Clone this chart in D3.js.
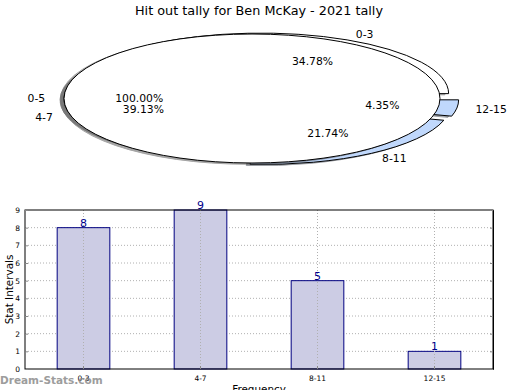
<!DOCTYPE html>
<html>
<head>
<meta charset="utf-8">
<script src="https://cdn.jsdelivr.net/npm/d3@7"></script>
<style>
  body { margin: 0; background: #fff; }
  svg text { font-family: "DejaVu Sans", sans-serif; }
</style>
</head>
<body>
<svg id="chart" width="520" height="390"></svg>
<script>
// counts per interval, shared by the pie and the bar chart
const categories = ["0-3", "4-7", "8-11", "12-15"];
const counts = [8, 9, 5, 1];
const explode = [0.1, 0, 0.1, 0.1];
const sliceColors = ["#ffffff", "#ffffff", "#c0d8fc", "#c0d8fc"];
// the second (single slice) pie drawn on top
const overCategories = ["0-5"];
const overCounts = [23];
const overColors = ["#ffffff"];
const yTicks = [0, 1, 2, 3, 4, 5, 6, 7, 8, 9];

const title = "Hit out tally for Ben McKay - 2021 tally";

const svg = d3.select("#chart");

svg.append("text")
  .attr("x", 259).attr("y", 15)
  .attr("text-anchor", "middle")
  .attr("font-size", 12.8)
  .text(title);

// ---- pies (squashed into ellipses, two overlaid axes of slightly different height) ----
// d3 angle 0 is 12 o'clock clockwise; start at 3 o'clock going counter-clockwise
const pie = d3.pie().sort(null).startAngle(Math.PI / 2).endAngle(Math.PI / 2 - 2 * Math.PI);
const arc = d3.arc().innerRadius(0).outerRadius(1);

const pieLayer = svg.append("g");
const labelLayer = svg.append("g");

function drawPie(box, values, labels, colors, explodes) {
  const g = pieLayer.append("g")
    .attr("transform", `translate(${box.cx},${box.cy}) scale(${box.rx},${box.ry})`);
  const toPx = (u, v) => [box.cx + u * box.rx, box.cy + v * box.ry];
  const slices = pie(values);
  const total = d3.sum(values);
  slices.forEach((s, i) => {
    const mid = (s.startAngle + s.endAngle) / 2;
    const ex = explodes ? explodes[i] : 0;
    const dx = Math.sin(mid) * ex, dy = -Math.cos(mid) * ex;
    const c = d3.rgb(colors[i]);
    const shade = d3.rgb(c.r * 0.3, c.g * 0.3, c.b * 0.3);
    // shadow
    g.append("path")
      .attr("d", arc(s))
      .attr("transform", `translate(${dx - 0.02},${dy + 0.02})`)
      .attr("fill", shade).attr("stroke", shade).attr("opacity", 0.5)
      .attr("vector-effect", "non-scaling-stroke");
    g.append("path")
      .attr("d", arc(s))
      .attr("transform", `translate(${dx},${dy})`)
      .attr("fill", colors[i]).attr("stroke", "#000").attr("stroke-width", 1)
      .attr("vector-effect", "non-scaling-stroke");

    const [lx, ly] = toPx(dx + Math.sin(mid) * 1.1, dy - Math.cos(mid) * 1.1);
    labelLayer.append("text")
      .attr("x", lx).attr("y", ly)
      .attr("dy", "0.35em")
      .attr("text-anchor", Math.sin(mid) > 0 ? "start" : "end")
      .attr("font-size", 10.8)
      .text(labels[i]);

    const [px, py] = toPx(dx + Math.sin(mid) * 0.6, dy - Math.cos(mid) * 0.6);
    labelLayer.append("text")
      .attr("x", px).attr("y", py)
      .attr("dy", "0.35em")
      .attr("text-anchor", "middle")
      .attr("font-size", 10.8)
      .text(d3.format(".2f")(values[i] / total * 100) + "%");
  });
}

drawPie({ cx: 252, cy: 99, rx: 188, ry: 60.5 }, counts, categories, sliceColors, explode);
drawPie({ cx: 252, cy: 98.5, rx: 188, ry: 64.5 }, overCounts, overCategories, overColors, null);

// ---- bar chart ----
const plot = { left: 25, right: 493, top: 210, bottom: 369 };

const x = d3.scaleBand().domain(categories)
  .range([plot.left, plot.right])
  .paddingInner(0.55).paddingOuter(0.275);
const y = d3.scaleLinear().domain([0, 9]).range([plot.bottom, plot.top]);

const barG = svg.append("g");

// horizontal grid under the bars
barG.selectAll("line.hgrid").data(yTicks.slice(1, -1)).enter()
  .append("line").attr("class", "hgrid")
  .attr("x1", plot.left).attr("x2", plot.right)
  .attr("y1", d => y(d)).attr("y2", d => y(d))
  .attr("stroke", "#b0b0b0").attr("stroke-dasharray", "1,2");

barG.selectAll("rect").data(counts).enter()
  .append("rect")
  .attr("x", (d, i) => x(categories[i]))
  .attr("y", d => y(d))
  .attr("width", x.bandwidth())
  .attr("height", d => y(0) - y(d))
  .attr("fill", "#ccccE4")
  .attr("stroke", "#000080").attr("stroke-width", 1);

// vertical grid at category ticks
barG.selectAll("line.vgrid").data(categories).enter()
  .append("line").attr("class", "vgrid")
  .attr("x1", d => x(d) + x.bandwidth() / 2).attr("x2", d => x(d) + x.bandwidth() / 2)
  .attr("y1", plot.top).attr("y2", plot.bottom)
  .attr("stroke", "#b0b0b0").attr("stroke-dasharray", "1,2");

barG.selectAll("text.value").data(counts).enter()
  .append("text").attr("class", "value")
  .attr("x", (d, i) => x(categories[i]) + x.bandwidth() / 2)
  .attr("y", d => y(d) - 1)
  .attr("text-anchor", "middle")
  .attr("font-size", 11)
  .attr("fill", "#00008b")
  .text(d => d);

// frame
barG.append("rect")
  .attr("x", plot.left).attr("y", plot.top)
  .attr("width", plot.right - plot.left).attr("height", plot.bottom - plot.top)
  .attr("fill", "none").attr("stroke", "#000").attr("stroke-width", 1);

const yAxis = barG.append("g")
  .attr("transform", `translate(${plot.left},0)`)
  .call(d3.axisLeft(y).tickValues(yTicks).tickSize(-3).tickPadding(5));
const xAxis = barG.append("g")
  .attr("transform", `translate(0,${plot.bottom})`)
  .call(d3.axisBottom(x).tickSize(-3).tickPadding(7));
barG.append("g")
  .attr("transform", `translate(${plot.right},0)`)
  .call(d3.axisRight(y).tickValues(yTicks).tickSize(-3).tickFormat(""));

[yAxis, xAxis].forEach(g => {
  g.select(".domain").remove();
  g.selectAll("text").attr("font-size", 7.5).attr("fill", "#000")
    .attr("font-family", "DejaVu Sans, sans-serif");
});
barG.selectAll(".tick line").attr("stroke", "#888");

svg.append("text")
  .attr("transform", `translate(12.5,${(plot.top + plot.bottom) / 2}) rotate(-90)`)
  .attr("text-anchor", "middle")
  .attr("font-size", 10.4)
  .text("Stat Intervals");

svg.append("text")
  .attr("x", (plot.left + plot.right) / 2).attr("y", 393)
  .attr("text-anchor", "middle")
  .attr("font-size", 10.4)
  .text("Frequency");

// watermark
svg.append("text")
  .attr("x", 0).attr("y", 384)
  .attr("font-size", 10.5).attr("font-weight", "bold")
  .attr("fill", "#8c8c8c").attr("opacity", 0.85)
  .text("Dream-Stats.com");
</script>
</body>
</html>
